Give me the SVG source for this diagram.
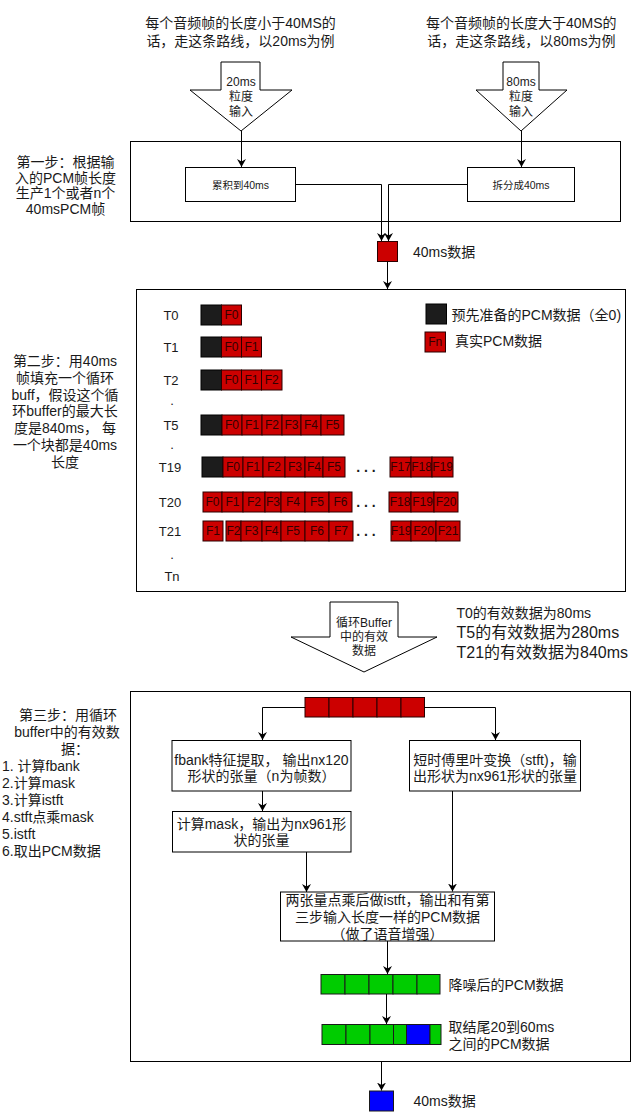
<svg xmlns="http://www.w3.org/2000/svg" width="639" height="1116" viewBox="0 0 639 1116">
<style>
.t{font-family:"Liberation Sans","Noto Sans CJK SC",sans-serif;fill:#1a1a1a;dominant-baseline:central}
.d{font-family:"Liberation Sans",sans-serif;fill:#1a1a1a;font-size:14px;font-weight:bold;text-anchor:middle}
.f10{font-size:10.5px}.f12{font-size:12px}.f13{font-size:13px}.f14{font-size:14px}.f16{font-size:16px}
.c{text-anchor:middle}
.box{fill:#fff;stroke:#000;stroke-width:1}
.arr{fill:#fff;stroke:#000;stroke-width:1}
.r{fill:#CC0000;stroke:#2a0000;stroke-width:1}
.k{fill:#1c1c1c;stroke:#000;stroke-width:1}
.g{fill:#00CC00;stroke:#1a1a1a;stroke-width:1}
.b{fill:#0000FF;stroke:#1a1a1a;stroke-width:1}
.ft{font-family:"Liberation Sans",sans-serif;font-size:12px;fill:#330000;text-anchor:middle;dominant-baseline:central}
.ln{fill:none;stroke:#000;stroke-width:1;marker-end:url(#ah)}
</style>
<defs>
<marker id="ah" viewBox="0 0 10 10" refX="10" refY="5" markerWidth="8" markerHeight="9" markerUnits="userSpaceOnUse" orient="auto" preserveAspectRatio="none">
<path d="M0,0 L10,5 L0,10 L3,5 Z" fill="#000"/>
</marker>
</defs>
<rect width="639" height="1116" fill="#fff"/>

<!-- top captions -->
<g id="caption-left">
<text class="t f14 c" x="240.5" y="23.3">每个音频帧的长度小于40MS的</text>
<text class="t f14 c" x="240.5" y="40.7">话，走这条路线，以20ms为例</text>
</g>
<g id="caption-right">
<text class="t f14 c" x="521.3" y="23.3">每个音频帧的长度大于40MS的</text>
<text class="t f14 c" x="521.3" y="40.7">话，走这条路线，以80ms为例</text>
</g>

<!-- input arrows -->
<g id="arrow-20ms">
<path class="arr" d="M221,62 L260,62 L260,90 L292,90 L241,131 L190,90 L221,90 Z"/>
<text class="t f12 c" x="241" y="82">20ms</text>
<text class="t f12 c" x="241" y="97">粒度</text>
<text class="t f12 c" x="241" y="111.5">输入</text>
</g>
<g id="arrow-80ms">
<path class="arr" d="M503,62 L539,62 L539,90 L567,90 L521,131 L476,90 L503,90 Z"/>
<text class="t f12 c" x="521" y="82">80ms</text>
<text class="t f12 c" x="521" y="97">粒度</text>
<text class="t f12 c" x="521" y="111.5">输入</text>
</g>

<!-- step 1 -->
<g id="step1-label">
<text class="t f14 c" x="65.5" y="161.7">第一步：根据输</text>
<text class="t f14 c" x="65.5" y="177.5">入的PCM帧长度</text>
<text class="t f14 c" x="65.5" y="193.3">生产1个或者n个</text>
<text class="t f14 c" x="65.5" y="209">40msPCM帧</text>
</g>
<g id="step1-box">
<rect class="box" x="130.5" y="141.5" width="490" height="80"/>
</g>
<g id="accumulate">
<rect class="box" x="185.5" y="167.5" width="110" height="34"/>
<text class="t f10 c" x="240.5" y="184.5">累积到40ms</text>
</g>
<g id="split">
<rect class="box" x="467.5" y="167.5" width="107" height="34"/>
<text class="t f10 c" x="521" y="184.5">拆分成40ms</text>
</g>
<g id="data-40ms-red">
<rect class="r" x="377.5" y="241.5" width="20" height="20"/>
<text class="t f14" x="413" y="251.5">40ms数据</text>
</g>

<!-- step 2 -->
<g id="step2-label">
<text class="t f14 c" x="65" y="361">第二步：用40ms</text>
<text class="t f14 c" x="65" y="377.8">帧填充一个循环</text>
<text class="t f14 c" x="65" y="394.6">buff，假设这个循</text>
<text class="t f14 c" x="65" y="411.4">环buffer的最大长</text>
<text class="t f14 c" x="65" y="428.2">度是840ms， 每</text>
<text class="t f14 c" x="65" y="445">一个块都是40ms</text>
<text class="t f14 c" x="65" y="461.8">长度</text>
</g>
<g id="step2-box">
<rect class="box" x="136.5" y="289.5" width="489" height="302"/>
</g>
<g id="row-labels">
<text class="t f13 c" x="171" y="315">T0</text>
<text class="t f13 c" x="171" y="347">T1</text>
<text class="t f13 c" x="171" y="380">T2</text>
<text class="t f13 c" x="172" y="400">.</text>
<text class="t f13 c" x="171" y="425">T5</text>
<text class="t f13 c" x="172" y="444">.</text>
<text class="t f13 c" x="170" y="467">T19</text>
<text class="t f13 c" x="170" y="502">T20</text>
<text class="t f13 c" x="170" y="531">T21</text>
<text class="t f13 c" x="172" y="554">.</text>
<text class="t f13 c" x="172" y="576">Tn</text>
</g>
<g id="row-T0">
<rect class="k" x="201" y="305" width="20.5" height="20"/>
<rect class="r" x="221.5" y="305" width="20" height="20"/><text class="ft" x="231.5" y="315">F0</text>
</g>
<g id="row-T1">
<rect class="k" x="201" y="337" width="20.5" height="20"/>
<rect class="r" x="221.5" y="337" width="20" height="20"/><text class="ft" x="231.5" y="347">F0</text>
<rect class="r" x="241.5" y="337" width="20" height="20"/><text class="ft" x="251.5" y="347">F1</text>
</g>
<g id="row-T2">
<rect class="k" x="201" y="370" width="20.5" height="20"/>
<rect class="r" x="221.5" y="370" width="20" height="20"/><text class="ft" x="231.5" y="380">F0</text>
<rect class="r" x="241.5" y="370" width="20" height="20"/><text class="ft" x="251.5" y="380">F1</text>
<rect class="r" x="261.5" y="370" width="20.5" height="20"/><text class="ft" x="271.7" y="380">F2</text>
</g>
<g id="row-T5">
<rect class="k" x="201" y="415" width="21" height="20"/>
<rect class="r" x="222" y="415" width="20" height="20"/><text class="ft" x="232" y="425">F0</text>
<rect class="r" x="242" y="415" width="20" height="20"/><text class="ft" x="252" y="425">F1</text>
<rect class="r" x="262" y="415" width="20" height="20"/><text class="ft" x="272" y="425">F2</text>
<rect class="r" x="282" y="415" width="19" height="20"/><text class="ft" x="291.5" y="425">F3</text>
<rect class="r" x="301" y="415" width="20" height="20"/><text class="ft" x="311" y="425">F4</text>
<rect class="r" x="321" y="415" width="23" height="20"/><text class="ft" x="332.5" y="425">F5</text>
</g>
<g id="row-T19">
<rect class="k" x="202" y="457" width="21" height="20"/>
<rect class="r" x="223" y="457" width="20" height="20"/><text class="ft" x="233" y="467">F0</text>
<rect class="r" x="243" y="457" width="20" height="20"/><text class="ft" x="253" y="467">F1</text>
<rect class="r" x="263" y="457" width="22" height="20"/><text class="ft" x="274" y="467">F2</text>
<rect class="r" x="285" y="457" width="20" height="20"/><text class="ft" x="295" y="467">F3</text>
<rect class="r" x="305" y="457" width="18" height="20"/><text class="ft" x="314" y="467">F4</text>
<rect class="r" x="323" y="457" width="22" height="20"/><text class="ft" x="334" y="467">F5</text>
<text class="d" x="366" y="472">. . .</text>
<rect class="r" x="390" y="457" width="21" height="20"/><text class="ft" x="400.5" y="467">F17</text>
<rect class="r" x="411" y="457" width="21" height="20"/><text class="ft" x="421.5" y="467">F18</text>
<rect class="r" x="432" y="457" width="21" height="20"/><text class="ft" x="442.5" y="467">F19</text>
</g>
<g id="row-T20">
<rect class="r" x="203" y="492" width="19" height="20"/><text class="ft" x="212.5" y="502">F0</text>
<rect class="r" x="222" y="492" width="21" height="20"/><text class="ft" x="232.5" y="502">F1</text>
<rect class="r" x="243" y="492" width="22" height="20"/><text class="ft" x="254" y="502">F2</text>
<rect class="r" x="265" y="492" width="16" height="20"/><text class="ft" x="273" y="502">F3</text>
<rect class="r" x="281" y="492" width="24" height="20"/><text class="ft" x="293" y="502">F4</text>
<rect class="r" x="305" y="492" width="24" height="20"/><text class="ft" x="317" y="502">F5</text>
<rect class="r" x="329" y="492" width="23" height="20"/><text class="ft" x="340.5" y="502">F6</text>
<text class="d" x="366" y="507">. . .</text>
<rect class="r" x="389" y="492" width="22" height="20"/><text class="ft" x="400" y="502">F18</text>
<rect class="r" x="411" y="492" width="23" height="20"/><text class="ft" x="422.5" y="502">F19</text>
<rect class="r" x="434" y="492" width="24" height="20"/><text class="ft" x="446" y="502">F20</text>
</g>
<g id="row-T21">
<rect class="r" x="203" y="521" width="20" height="20"/><text class="ft" x="213" y="531">F1</text>
<rect class="r" x="226" y="521" width="15" height="20"/><text class="ft" x="233.5" y="531">F2</text>
<rect class="r" x="241" y="521" width="21" height="20"/><text class="ft" x="251.5" y="531">F3</text>
<rect class="r" x="262" y="521" width="19" height="20"/><text class="ft" x="271.5" y="531">F4</text>
<rect class="r" x="281" y="521" width="24" height="20"/><text class="ft" x="293" y="531">F5</text>
<rect class="r" x="305" y="521" width="24" height="20"/><text class="ft" x="317" y="531">F6</text>
<rect class="r" x="329" y="521" width="24" height="20"/><text class="ft" x="341" y="531">F7</text>
<text class="d" x="366" y="536">. . .</text>
<rect class="r" x="391" y="521" width="20" height="20"/><text class="ft" x="401" y="531">F19</text>
<rect class="r" x="411" y="521" width="25" height="20"/><text class="ft" x="423.5" y="531">F20</text>
<rect class="r" x="436" y="521" width="24" height="20"/><text class="ft" x="448" y="531">F21</text>
</g>
<g id="legend">
<rect class="k" x="426" y="304" width="20.5" height="20"/>
<text class="t f14" x="451.5" y="315">预先准备的PCM数据（全0)</text>
<rect class="r" x="425" y="332" width="20.5" height="20"/><text class="ft" x="435.2" y="342">Fn</text>
<text class="t f14" x="455" y="341">真实PCM数据</text>
</g>

<!-- buffer arrow -->
<g id="arrow-buffer">
<path class="arr" d="M330,602 L398,602 L398,637 L437,637 L364,672 L291,637 L330,637 Z"/>
<text class="t f12 c" x="364" y="622.5">循环Buffer</text>
<text class="t f12 c" x="364" y="636.5">中的有效</text>
<text class="t f12 c" x="364" y="651">数据</text>
</g>
<g id="valid-data-note">
<text class="t f14" x="456.5" y="612.5">T0的有效数据为80ms</text>
<text class="t f16" x="456.5" y="632.5">T5的有效数据为280ms</text>
<text class="t f16" x="456.5" y="652.5">T21的有效数据为840ms</text>
</g>

<!-- step 3 -->
<g id="step3-label">
<text class="t f14 c" x="68" y="715">第三步：用循环</text>
<text class="t f14 c" x="67" y="732">buffer中的有效数</text>
<text class="t f14" x="61" y="749">据：</text>
<text class="t f14" x="2" y="766">1. 计算fbank</text>
<text class="t f14" x="2" y="783">2.计算mask</text>
<text class="t f14" x="2" y="800">3.计算istft</text>
<text class="t f14" x="2" y="817">4.stft点乘mask</text>
<text class="t f14" x="2" y="834">5.istft</text>
<text class="t f14" x="2" y="851">6.取出PCM数据</text>
</g>
<g id="step3-box">
<rect class="box" x="130.5" y="691.5" width="500" height="370"/>
</g>
<g id="valid-buffer">
<rect class="r" x="305" y="697.5" width="24" height="19.5"/>
<rect class="r" x="329" y="697.5" width="24" height="19.5"/>
<rect class="r" x="353" y="697.5" width="24" height="19.5"/>
<rect class="r" x="377" y="697.5" width="24" height="19.5"/>
<rect class="r" x="401" y="697.5" width="23.5" height="19.5"/>
</g>
<g id="fbank">
<rect class="box" x="172" y="740.5" width="179" height="50.5"/>
<text class="t f14 c" x="261.5" y="759.5">fbank特征提取， 输出nx120</text>
<text class="t f14 c" x="261.5" y="775.5">形状的张量（n为帧数）</text>
</g>
<g id="stft">
<rect class="box" x="409.5" y="740.5" width="171" height="50.5"/>
<text class="t f14 c" x="495" y="759.5">短时傅里叶变换（stft)，输</text>
<text class="t f14 c" x="495" y="775.5">出形状为nx961形状的张量</text>
</g>
<g id="mask">
<rect class="box" x="172.5" y="811.5" width="178.5" height="40.5"/>
<text class="t f14 c" x="261.5" y="823.5">计算mask，输出为nx961形</text>
<text class="t f14 c" x="261.5" y="840">状的张量</text>
</g>
<g id="istft">
<rect class="box" x="280.5" y="892" width="214" height="49"/>
<text class="t f14 c" x="387.5" y="899.5">两张量点乘后做istft，输出和有第</text>
<text class="t f14 c" x="387.5" y="916.5">三步输入长度一样的PCM数据</text>
<text class="t f14 c" x="387.5" y="933.5">（做了语音增强）</text>
</g>
<g id="denoised">
<rect class="g" x="321" y="974.5" width="24" height="19.5"/>
<rect class="g" x="345" y="974.5" width="24" height="19.5"/>
<rect class="g" x="369" y="974.5" width="24" height="19.5"/>
<rect class="g" x="393" y="974.5" width="24" height="19.5"/>
<rect class="g" x="417" y="974.5" width="23" height="19.5"/>
<text class="t f14" x="448.5" y="984.5">降噪后的PCM数据</text>
</g>
<g id="tail-select">
<rect class="g" x="322" y="1024.5" width="24" height="20"/>
<rect class="g" x="346" y="1024.5" width="24" height="20"/>
<rect class="g" x="370" y="1024.5" width="23.5" height="20"/>
<rect class="g" x="393.5" y="1024.5" width="13" height="20"/>
<rect class="b" x="406.5" y="1024.5" width="23.5" height="20"/>
<rect class="g" x="430" y="1024.5" width="11" height="20"/>
<text class="t f14" x="448.5" y="1027">取结尾20到60ms</text>
<text class="t f14" x="448.5" y="1044">之间的PCM数据</text>
</g>
<g id="data-40ms-blue">
<rect class="b" x="369.5" y="1091" width="24" height="20"/>
<text class="t f14" x="413.5" y="1101">40ms数据</text>
</g>

<!-- connectors -->
<g id="connectors">
<path class="ln" d="M241.5,131 L241.5,167"/>
<path class="ln" d="M521.5,131 L521.5,167"/>
<path class="ln" d="M295.5,184.5 L381.5,184.5 L381.5,241"/>
<path class="ln" d="M467.5,184.5 L388.5,184.5 L388.5,241"/>
<path class="ln" d="M387.5,261.5 L387.5,289"/>
<path class="ln" d="M305,707.5 L262.5,707.5 L262.5,740"/>
<path class="ln" d="M424.5,707.5 L495.5,707.5 L495.5,740"/>
<path class="ln" d="M262.5,791 L262.5,811"/>
<path class="ln" d="M306.5,852 L306.5,892"/>
<path class="ln" d="M452.5,791 L452.5,891.5"/>
<path class="ln" d="M387.5,941 L387.5,974"/>
<path class="ln" d="M386.5,994 L386.5,1024"/>
<path class="ln" d="M381.5,1061.5 L381.5,1090.5"/>
</g>
</svg>
